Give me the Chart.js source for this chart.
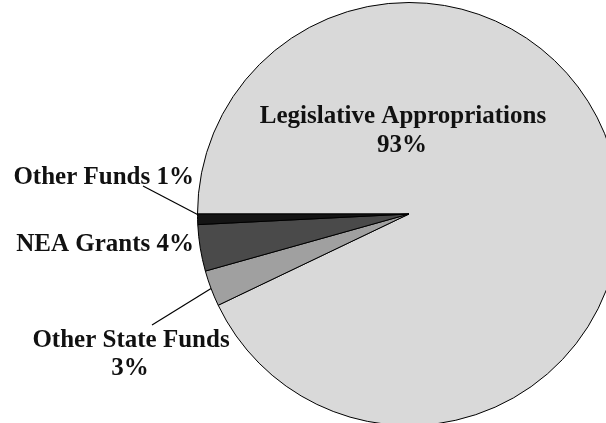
<!DOCTYPE html>
<html lang="en">
<head>
    <meta charset="UTF-8">
    <title>Funding Sources</title>
    <script src="https://cdn.jsdelivr.net/npm/chart.js"></script>
    <style>
        html, body { margin: 0; padding: 0; background: #fff; overflow: hidden; }
        .chart-container { position: relative; width: 818px; height: 428px; }
    </style>
</head>
<body>
    <div class="chart-container">
        <canvas id="fundsChart"></canvas>
    </div>

    <script>
        // Data
        const categories = ['Legislative Appropriations', 'Other State Funds', 'NEA Grants', 'Other Funds'];
        const shares = [92.9, 2.75, 3.55, 0.8];
        const shownPercents = ['93%', '3%', '4%', '1%'];
        const sliceColors = ['#d9d9d9', '#a0a0a0', '#4a4a4a', '#141414'];

        const FONT = 'bold 25px "Liberation Serif", "DejaVu Serif", serif';

        // point on the rim of a slice, at a given fraction of its sweep
        function rimPoint(arc, frac) {
            const a = arc.startAngle + (arc.endAngle - arc.startAngle) * frac;
            return { x: arc.x + Math.cos(a) * arc.outerRadius, y: arc.y + Math.sin(a) * arc.outerRadius };
        }

        const labelPlugin = {
            id: 'sliceLabels',
            afterDraw(chart) {
                const ctx = chart.ctx;
                const arcs = chart.getDatasetMeta(0).data;
                ctx.save();
                ctx.font = FONT;
                ctx.fillStyle = '#111';
                ctx.strokeStyle = '#000';
                ctx.lineWidth = 1.2;

                // Legislative Appropriations, inside the big slice
                ctx.textAlign = 'center';
                ctx.fillText(categories[0], 403, 123);
                ctx.fillText(shownPercents[0], 402, 152);

                // Other Funds, with leader line
                ctx.textAlign = 'right';
                ctx.fillText(categories[3] + ' ' + shownPercents[3], 194, 184);
                let p = rimPoint(arcs[3], 0.95);
                ctx.beginPath();
                ctx.moveTo(143, 186);
                ctx.lineTo(p.x, p.y);
                ctx.stroke();

                // NEA Grants
                ctx.fillText(categories[2] + ' ' + shownPercents[2], 194, 251);

                // Other State Funds, with leader line
                ctx.textAlign = 'center';
                ctx.fillText(categories[1], 131, 347);
                ctx.fillText(shownPercents[1], 130, 375);
                p = rimPoint(arcs[1], 0.5);
                ctx.beginPath();
                ctx.moveTo(152, 325);
                ctx.lineTo(p.x, p.y);
                ctx.stroke();

                ctx.restore();
            }
        };

        const ctx = document.getElementById('fundsChart').getContext('2d');
        new Chart(ctx, {
            type: 'pie',
            data: {
                labels: categories,
                datasets: [{
                    data: shares,
                    backgroundColor: sliceColors,
                    borderColor: '#000',
                    borderWidth: 1
                }]
            },
            options: {
                responsive: true,
                maintainAspectRatio: false,
                animation: false,
                rotation: 270,
                layout: { padding: { top: 2, bottom: 2 } },
                plugins: {
                    legend: { display: false },
                    tooltip: { enabled: false }
                }
            },
            plugins: [labelPlugin]
        });
    </script>
</body>
</html>
